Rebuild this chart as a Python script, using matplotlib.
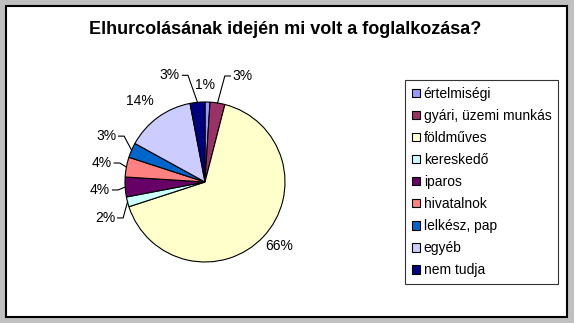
import numpy as np
import matplotlib
matplotlib.use("Agg")
import matplotlib.pyplot as plt
from matplotlib.patches import Rectangle, Patch

plt.rcParams['font.family'] = ['Liberation Sans', 'DejaVu Sans']

# data
title = "Elhurcolásának idején mi volt a foglalkozása?"
categories = ["értelmiségi", "gyári, üzemi munkás", "földműves", "kereskedő",
              "iparos", "hivatalnok", "lelkész, pap", "egyéb", "nem tudja"]
percents = [1, 3, 66, 2, 4, 4, 3, 14, 3]
colors = ["#9999FF", "#993366", "#FFFFCC", "#CCFFFF", "#660066",
          "#FF8080", "#0066CC", "#CCCCFF", "#000080"]

# label layout (Excel moved the small ones apart)
lab_shift = [-1.8, 5.7, -2.5, -7.4, -1.2, 0.7, 3.9, -2.7, -7.8]   # degrees
lab_rad = [1.21, 1.37, 1.23, 1.21, 1.19, 1.19, 1.25, 1.30, 1.37]
has_line = [False, True, False, True, True, True, True, False, True]

W, H = 574, 323
fig = plt.figure(figsize=(W / 100, H / 100), dpi=100)
fig.patch.set_facecolor("#C0C0C0")
fig.patches.append(Rectangle((6 / W, 6 / H), 561 / W, 311 / H, transform=fig.transFigure,
                             facecolor="white", edgecolor="black", linewidth=1.5, zorder=-5))

fig.text(285 / W, 1 - 34 / H, title, ha="center", va="baseline", fontsize=13,
         fontweight="bold")

# pie axes: centre (205,182) px, radius 80 px
ax = fig.add_axes([105 / W, (H - 282) / H, 200 / W, 200 / H])
ax.set_zorder(2)
ax.axis("off")

wedges, _ = ax.pie(percents, colors=colors, startangle=90, counterclock=False, radius=1.0,
                   wedgeprops=dict(edgecolor="black", linewidth=0.8))
ax.set_xlim(-1.25, 1.25)
ax.set_ylim(-1.25, 1.25)

cum = np.cumsum([0] + percents)
total = float(sum(percents))
for i, p in enumerate(percents):
    mid = (cum[i] + p / 2) / total * 360  # clockwise from top
    ang = np.deg2rad(90 - (mid + lab_shift[i]))
    tx, ty = lab_rad[i] * np.cos(ang), lab_rad[i] * np.sin(ang)
    txt = "%d%%" % p
    if has_line[i]:
        s = 1 if tx < 0 else -1
        ha = "right" if tx < 0 else "left"
        ax.text(tx, ty, txt, ha=ha, va="center", fontsize=10)
        m = np.deg2rad(90 - mid)
        ex, ey = np.cos(m), np.sin(m)
        ax.plot([tx + s * 0.03, tx + s * 0.1, ex], [ty, ty, ey], color="black",
                linewidth=0.8, clip_on=False)
    else:
        ax.text(tx, ty, txt, ha="center", va="center", fontsize=10)

handles = [Patch(facecolor=c, edgecolor="black", linewidth=0.8) for c in colors]
leg = fig.legend(handles, categories, loc="upper left",
                 bbox_to_anchor=(405 / W, 1 - 80 / H), fontsize=10,
                 handlelength=0.55, handleheight=0.55, handletextpad=0.3,
                 labelspacing=0.58, borderpad=0.5, borderaxespad=0,
                 fancybox=False, frameon=True)
leg.get_frame().set_edgecolor("black")
leg.get_frame().set_linewidth(0.8)

fig.savefig("out.png", dpi=100, facecolor=fig.get_facecolor())
